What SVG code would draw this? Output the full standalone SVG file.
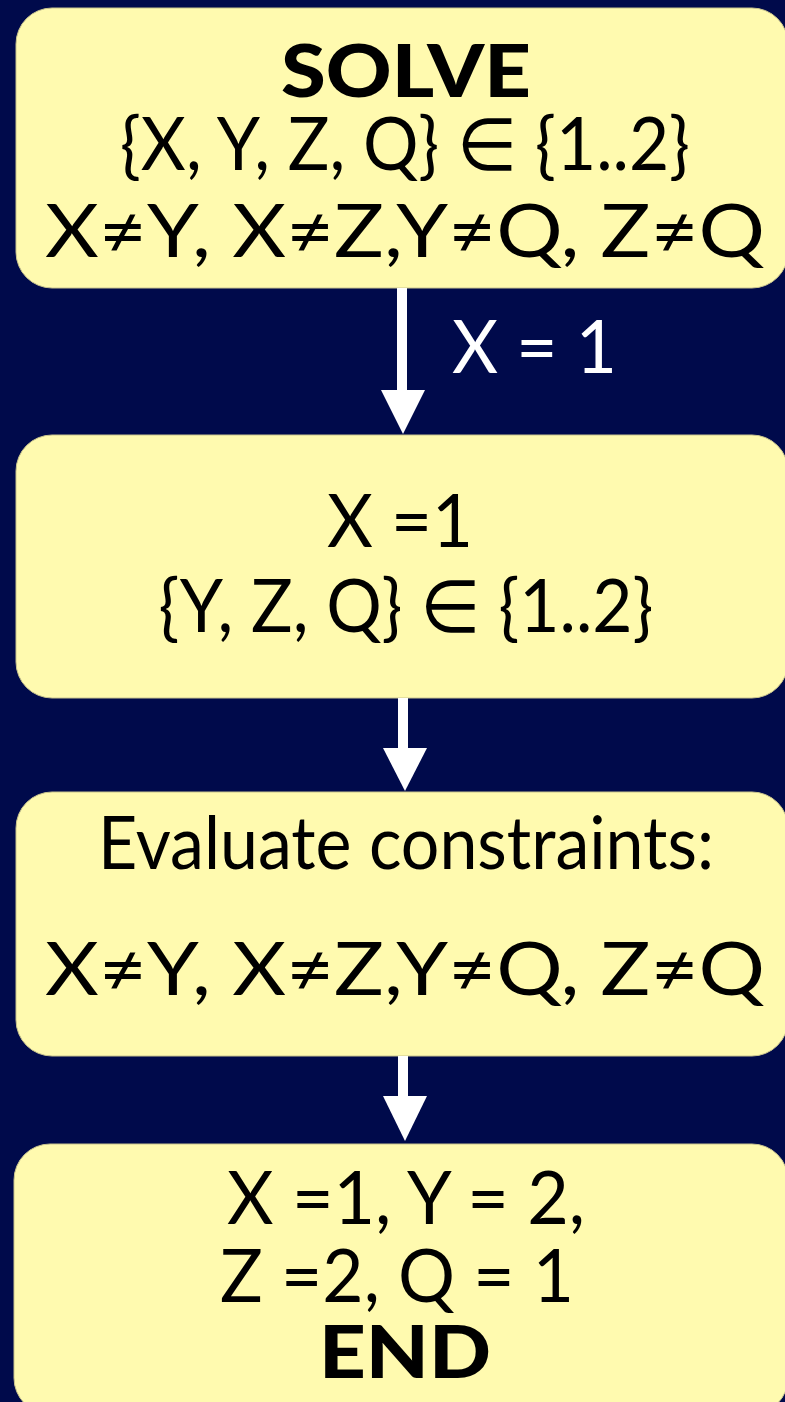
<svg xmlns="http://www.w3.org/2000/svg" width="785" height="1402" viewBox="0 0 785 1402">
<style>
.bg{fill:#000A4B}
.box{fill:#FFFAAF;stroke:#C9C48E;stroke-width:1}
.t{font-family:Lato,"Open Sans","DejaVu Sans",sans-serif;font-size:73px;fill:#000;text-anchor:middle}
.b{font-weight:900}
.w{fill:#fff;text-anchor:start}
.arr{fill:#fff}
</style>
<rect class="bg" x="0" y="0" width="785" height="1402"/>
<g id="node-solve">
<rect class="box" x="16" y="8" width="772" height="280" rx="36" ry="36"/>
<text class="t b" x="406" y="97" textLength="250" lengthAdjust="spacingAndGlyphs">SOLVE</text>
<text class="t" x="405" y="170" textLength="570" lengthAdjust="spacingAndGlyphs">{X, Y, Z, Q} ∈ {1..2}</text>
<text class="t" x="405" y="257" textLength="720" lengthAdjust="spacingAndGlyphs">X≠Y, X≠Z,Y≠Q, Z≠Q</text>
</g>
<g id="node-assign">
<rect class="box" x="16" y="435" width="772" height="263" rx="36" ry="36"/>
<text class="t" x="400" y="547" textLength="146" lengthAdjust="spacingAndGlyphs">X =1</text>
<text class="t" x="406" y="632" textLength="495" lengthAdjust="spacingAndGlyphs">{Y, Z, Q} ∈ {1..2}</text>
</g>
<g id="node-evaluate">
<rect class="box" x="16" y="792" width="772" height="264" rx="36" ry="36"/>
<text class="t" x="406" y="869" textLength="616" lengthAdjust="spacingAndGlyphs">Evaluate constraints:</text>
<text class="t" x="405" y="995" textLength="720" lengthAdjust="spacingAndGlyphs">X≠Y, X≠Z,Y≠Q, Z≠Q</text>
</g>
<g id="node-end">
<rect class="box" x="14" y="1144" width="774" height="270" rx="36" ry="36"/>
<text class="t" x="406" y="1224" textLength="358" lengthAdjust="spacingAndGlyphs">X =1, Y = 2,</text>
<text class="t" x="397" y="1302" textLength="354" lengthAdjust="spacingAndGlyphs">Z =2, Q = 1</text>
<text class="t b" x="405" y="1378" textLength="172" lengthAdjust="spacingAndGlyphs">END</text>
</g>
<g id="connectors">
<rect class="arr" x="397" y="288" width="10" height="104"/>
<polygon class="arr" points="381,390 425,390 403,434"/>
<text class="t w" x="452" y="373" textLength="165" lengthAdjust="spacingAndGlyphs">X = 1</text>
<rect class="arr" x="398" y="698" width="10" height="52"/>
<polygon class="arr" points="383,748 427,748 405,791"/>
<rect class="arr" x="398" y="1056" width="10" height="42"/>
<polygon class="arr" points="383,1096 427,1096 405,1141"/>
</g>
</svg>
